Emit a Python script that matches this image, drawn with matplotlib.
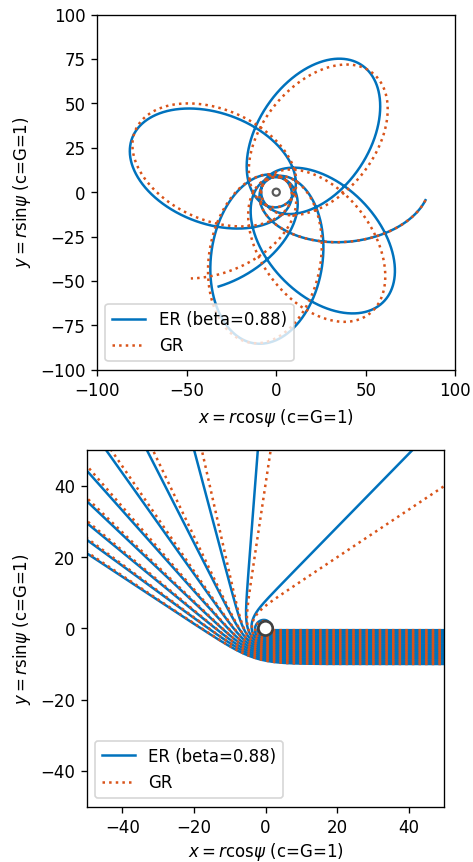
import numpy as np
import matplotlib
matplotlib.use("Agg")
import matplotlib.pyplot as plt
from matplotlib.patches import Circle

# ---------------- values (G = c = M = 1) ----------------
theories = ["ER (beta=0.88)", "GR"]
strong_field_term = [0.2, 0.0]          # extra -a*u^3 term of ER (GR has none)
line_colors = ["#0072BD", "#D95319"]
line_styles = ["-", ":"]

# bound orbit (top panel)
orbit_apoapsis = 86.0
orbit_periapsis = 8.4
orbit_start_xy = [83.3, -4.5]
orbit_periapsis_passes = 5
orbit_end_radius = [62.0, 68.0]

# light rays (bottom panel): impact parameters (rays come from the right below the hole)
ray_impact = [0.5, 1.0, 1.5, 2.0, 2.5, 3.0, 3.5, 4.0, 4.5, 5.0,
              5.5, 6.0, 6.5, 7.0, 7.5, 8.0, 8.5, 9.0, 9.5, 10.0]
ray_start_x = 200.0
horizon_radius = 2.0

top_xticks = [-100, -50, 0, 50, 100]
top_yticks = [-100, -75, -50, -25, 0, 25, 50, 75, 100]
bottom_ticks = [-40, -20, 0, 20, 40]
xlabel_text = r"$x = r\mathrm{cos}\psi$ (c=G=1)"
ylabel_text = r"$y = r\mathrm{sin}\psi$ (c=G=1)"


def integrate(u0, v0, c0, a, dth, stop):
    """RK4 for u'' = -u + c0 + 3u^2 - a u^3 in the swept angle."""
    def acc(u):
        return -u + c0 + 3.0 * u * u - a * u ** 3
    u, v, th = u0, v0, 0.0
    us, ths = [u], [th]
    state = {"passes": 0}
    for _ in range(400000):
        k1u, k1v = v, acc(u)
        k2u, k2v = v + 0.5 * dth * k1v, acc(u + 0.5 * dth * k1u)
        k3u, k3v = v + 0.5 * dth * k2v, acc(u + 0.5 * dth * k2u)
        k4u, k4v = v + dth * k3v, acc(u + dth * k3u)
        un = u + dth / 6.0 * (k1u + 2 * k2u + 2 * k3u + k4u)
        vn = v + dth / 6.0 * (k1v + 2 * k2v + 2 * k3v + k4v)
        th += dth
        if v > 0 and vn <= 0:
            state["passes"] += 1
        u, v = un, vn
        us.append(u)
        ths.append(th)
        if stop(u, v, th, state):
            break
    return np.array(us), np.array(ths)


# ---- bound orbit initial conditions (shared by both theories) ----
u1 = 1.0 / orbit_apoapsis
u2 = 1.0 / orbit_periapsis
u3 = 0.5 - u1 - u2
inv_h2 = u1 * u2 + u1 * u3 + u2 * u3
r0 = np.hypot(*orbit_start_xy)
psi0 = np.arctan2(orbit_start_xy[1], orbit_start_xy[0])
u0 = 1.0 / r0
v0 = np.sqrt(2.0 * (u0 - u1) * (u2 - u0) * (u3 - u0))

orbits = []
for a, r_end in zip(strong_field_term, orbit_end_radius):
    stop = (lambda u, v, th, s, r_end=r_end:
            s["passes"] >= orbit_periapsis_passes and v < 0 and u <= 1.0 / r_end)
    us, ths = integrate(u0, v0, inv_h2, a, 0.002, stop)
    psi = psi0 - ths
    orbits.append((np.cos(psi) / us, np.sin(psi) / us))

# ---- light rays ----
rays = []
for a in strong_field_term:
    paths = []
    for b in ray_impact:
        th0 = np.arctan2(b, ray_start_x)
        ru0 = np.sin(th0) / b
        rv0 = np.cos(th0) / b
        stop = (lambda u, v, th, s: u >= 1.0 / horizon_radius
                or (v < 0 and u < 1.0 / 250.0) or th > 4 * np.pi)
        us, ths = integrate(ru0, rv0, 0.0, a, 0.001, stop)
        th = th0 + ths
        paths.append((np.cos(th) / us, -np.sin(th) / us))
    rays.append(paths)

# ---------------- figure ----------------
DPI = 120
fig = plt.figure(figsize=(473.4 / DPI, 862.4 / DPI), dpi=DPI)
W, H = 473.0, 862.0
ax1 = fig.add_axes([97 / W, 1 - 370 / H, 358 / W, 355 / H])
ax2 = fig.add_axes([86.6 / W, 1 - 806.6 / H, 357.5 / W, 356.2 / H])

for (x, y), lab, c, ls in zip(orbits, theories, line_colors, line_styles):
    ax1.plot(x, y, color=c, linestyle=ls, lw=1.5, label=lab)
ax1.add_patch(Circle((0, 0), horizon_radius, facecolor="white",
                     edgecolor="0.35", lw=1.3, zorder=5))
ax1.set_xlim(-100, 100)
ax1.set_ylim(-100, 100)
ax1.set_xticks(top_xticks)
ax1.set_yticks(top_yticks)
ax1.set_xlabel(xlabel_text)
ax1.set_ylabel(ylabel_text)
ax1.legend(loc="lower left")

for paths, lab, c, ls in zip(rays, theories, line_colors, line_styles):
    for i, (x, y) in enumerate(paths):
        ax2.plot(x, y, color=c, linestyle=ls, lw=1.5,
                 label=lab if i == 0 else None)
ax2.add_patch(Circle((0, 0), horizon_radius, facecolor="white",
                     edgecolor="0.25", lw=1.6, zorder=5))
ax2.set_xlim(-50, 50)
ax2.set_ylim(-50, 50)
ax2.set_xticks(bottom_ticks)
ax2.set_yticks(bottom_ticks)
ax2.set_xlabel(xlabel_text, labelpad=2.5)
ax2.set_ylabel(ylabel_text)
ax2.legend(loc="lower left")

fig.savefig("out.png", dpi=DPI)
